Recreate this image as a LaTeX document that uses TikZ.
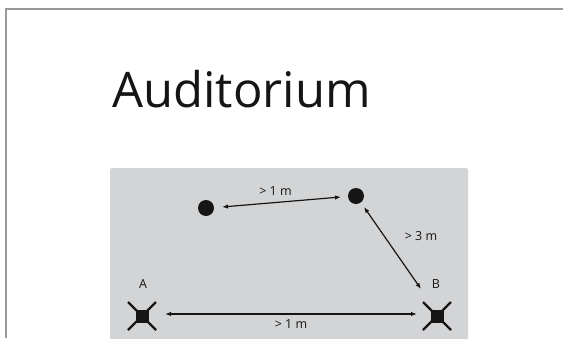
\documentclass[tikz,border=0pt]{standalone}
\usepackage{fontspec}
\setmainfont{Open Sans}
\usetikzlibrary{arrows.meta,positioning}
\definecolor{audframe}{HTML}{9A9A9A}
\definecolor{audpanel}{HTML}{D3D4D6}
\definecolor{audink}{HTML}{151515}
\tikzset{
  dist/.style={{Latex[length=6pt,width=4.5pt]}-{Latex[length=6pt,width=4.5pt]},draw=audink,line width=1.2pt},
  spot/.style={circle,fill=audink,inner sep=0pt,minimum size=16pt},
  mic/.style={rectangle,fill=audink,inner sep=0pt,minimum size=13pt},
  lbl/.style={font=\fontsize{12.5}{14}\selectfont,text=audink,inner sep=1pt},
}
\begin{document}
\begin{tikzpicture}[x=1pt,y=-1pt]
  \useasboundingbox[fill=white] (0,0) rectangle (563,338);
  % frame
  \draw[audframe,line width=2.5pt] (6,338) -- (6,9) -- (563,9);
  \node[anchor=base west,inner sep=0pt,font=\fontsize{49}{56}\selectfont,text=audink] (title) at (112,107) {Auditorium};
  % panel
  \fill[audpanel,rounded corners=2pt] (110,168) rectangle (468,345);
  \node[spot] (p1) at (206,208) {};
  \node[spot] (p2) at (356,196) {};
  \node[mic] (A) at (142,316) {};
  \node[mic] (B) at (437,316) {};
  \foreach \m in {A,B}{
    \draw[audink,line width=2.2pt] (\m.center) +(-14,-14) -- +(14,14);
    \draw[audink,line width=2.2pt] (\m.center) +(-14,14) -- +(14,-14);
  }
  \node[lbl] (labA) at (143,284) {A};
  \node[lbl] (labB) at (436,284) {B};
  \coordinate (s1) at (222,207);
  \coordinate (s2) at (341,197);
  \draw[dist] (s1) -- node[lbl,above=5pt,pos=0.45] {> 1 m} (s2);
  \coordinate (t1) at (364,207);
  \coordinate (t2) at (421,289);
  \draw[dist] (t1) -- (t2);
  \node[lbl] (lab3) at (421,236) {> 3 m};
  \coordinate (u1) at (165,314);
  \coordinate (u2) at (417,314);
  \draw[dist] (u1) -- node[lbl,below=4pt] {> 1 m} (u2);
\end{tikzpicture}
\end{document}
